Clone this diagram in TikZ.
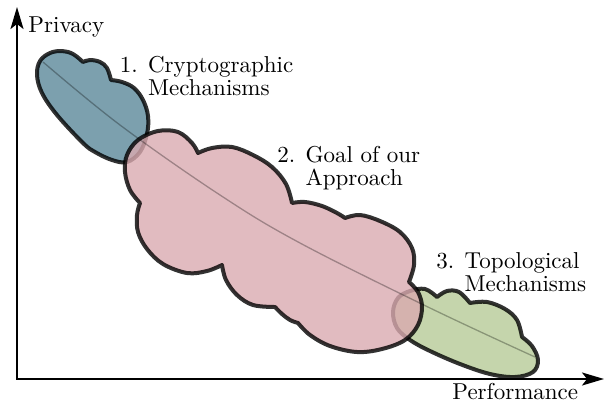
\documentclass[tikz,border=0pt]{standalone}
\usetikzlibrary{arrows.meta}
\definecolor{bluec}{RGB}{91,136,154}
\definecolor{greenc}{RGB}{182,203,151}
\definecolor{pinkc}{RGB}{218,170,176}
\tikzset{
  blob/.style={draw=black, line width=4pt, line join=round, fill opacity=0.8, draw opacity=0.8},
  seg/.style={smooth, tension=0.6},
  trend/.style={draw=black, draw opacity=0.3, line width=1.3pt},
  lbl/.style={font=\fontsize{10}{10}\selectfont, inner sep=0pt, align=left, anchor=north west, scale=2.3, transform shape},
  axislbl/.style={font=\fontsize{10}{10}\selectfont, inner sep=0pt, anchor=base west, scale=2.3, transform shape},
  axis/.style={line width=2pt, {Stealth[length=22pt,width=13pt,inset=5pt]}-{Stealth[length=22pt,width=13pt,inset=5pt]}},
}
\begin{document}
\begin{tikzpicture}[x=1pt,y=-1pt]
\useasboundingbox (0,0) rectangle (605,402);
% 1. cryptographic (blue)
\filldraw[blob, fill=bluec]
  plot[seg] coordinates {(83,62) (90,60) (100,62) (107,68) (111,80)}
  -- plot[seg] coordinates {(111,80) (122,82) (134,88) (143,100) (148,116) (147,134) (140,152) (127,162) (112,160) (95,152) (83,143) (57,115) (42,93) (37,75) (40,61) (50,53) (62,51) (73,54) (83,62)}
  -- cycle;
% 3. topological (green)
\filldraw[blob, fill=greenc]
  plot[seg] coordinates {(437,297) (447,291) (459,292) (470,303)}
  -- plot[seg] coordinates {(470,303) (487,302) (505,309) (517,320) (522,337)}
  -- plot[seg] coordinates {(522,337) (532,346) (538,360) (533,372) (515,377) (490,374) (460,364) (430,351) (410,340) (397,328) (393,312) (398,298) (410,291) (425,289) (437,297)}
  -- cycle;
% 2. goal (pink)
\filldraw[blob, fill=pinkc]
  plot[seg] coordinates {(140,203) (130,190) (125,172) (127,155) (138,140) (158,131) (178,132) (192,143) (198,153)}
  -- plot[seg] coordinates {(198,153) (212,148) (232,147) (253,155) (272,167) (286,184) (292,203)}
  -- plot[seg] coordinates {(292,203) (305,202) (322,206) (337,213) (345,218)}
  -- plot[seg] coordinates {(345,218) (360,215) (380,221) (400,232) (412,248) (414,265) (409,282)}
  -- plot[seg] coordinates {(409,282) (418,292) (422,307) (418,325) (405,340) (382,349) (357,352) (330,346) (310,335) (298,323)}
  -- plot[seg] coordinates {(298,323) (290,320) (282,314) (275,307)}
  -- plot[seg] coordinates {(275,307) (253,305) (237,295) (226,280) (222,265)}
  -- plot[seg] coordinates {(222,265) (207,271) (187,273) (163,264) (147,249) (138,232) (137,215) (140,203)}
  -- cycle;
% trade-off curve
\draw[trend] plot[smooth, tension=0.6] coordinates {(43,62) (120,125) (220,195) (300,243) (430,308) (535,357)};
% axes
\coordinate (ytip) at (17,7);
\coordinate (xtip) at (604,379);
\draw[axis] (ytip) |- (xtip);
\node[axislbl] (priv) at (28,32) {Privacy};
\node[axislbl] (perf) at (452,399) {Performance};
% labels
\node[lbl] (l1) at (119.5,55.5) {1. Cryptographic\\\phantom{1. }Mechanisms};
\node[lbl] (l2) at (277,146) {2. Goal of our\\\phantom{2. }Approach};
\node[lbl] (l3) at (436,252) {3. Topological\\\phantom{3. }Mechanisms};
\end{tikzpicture}
\end{document}
